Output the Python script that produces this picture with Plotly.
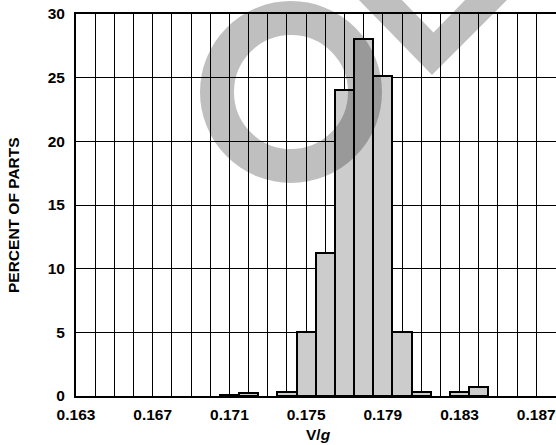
import plotly.graph_objects as go

# ---- data ----
bin_centers = [0.171, 0.172, 0.174, 0.175, 0.176, 0.177, 0.178, 0.179, 0.180, 0.181, 0.183, 0.184]
percent_of_parts = [0.1, 0.2, 0.3, 5.0, 11.2, 24.0, 28.0, 25.1, 5.0, 0.3, 0.3, 0.7]
bin_width = 0.001

x_grid_values = [round(0.163 + 0.001 * i, 3) for i in range(25)]
x_tick_labels = ["0.163", "0.167", "0.171", "0.175", "0.179", "0.183", "0.187"]
y_tick_values = [0, 5, 10, 15, 20, 25, 30]

x_ticktext = [f"{v:.3f}" if f"{v:.3f}" in x_tick_labels else "" for v in x_grid_values]

W, H = 556, 445
ML, MR, MT, MB = 76, 0, 14, 49
PW, PH = W - ML - MR, H - MT - MB

FONT = "Liberation Sans, Arial, sans-serif"
FS = 15.5

fig = go.Figure()
fig.add_trace(go.Bar(
    x=bin_centers, y=percent_of_parts, width=bin_width,
    marker=dict(color="#cccccc", line=dict(color="#000000", width=2)),
    showlegend=False, hoverinfo="x+y",
))

def px_to_paper(px, py):
    return (px - ML) / PW, (H - MB - py) / PH

# watermark (decorative overlay)
cx0, cy0 = px_to_paper(291 - 74, 92 - 74)
cx1, cy1 = px_to_paper(291 + 74, 92 + 74)
shapes = [dict(type="circle", xref="paper", yref="paper", x0=cx0, y0=cy1, x1=cx1, y1=cy0,
               line=dict(color="rgba(0,0,0,0.25)", width=34), fillcolor="rgba(0,0,0,0)",
               layer="above")]
vpts = [(357, -2), (432, 75), (509, -2), (467, -2), (433.5, 32.5), (400, -2)]
path = ""
for i, (a, b) in enumerate(vpts):
    xa, yb = px_to_paper(a, b)
    path += ("M" if i == 0 else "L") + f"{xa:.5f},{yb:.5f} "
path += "Z"
shapes.append(dict(type="path", xref="paper", yref="paper", path=path,
                   fillcolor="rgba(0,0,0,0.25)", line=dict(width=0), layer="above"))

fig.update_layout(
    width=W, height=H,
    margin=dict(l=ML, r=MR, t=MT, b=MB, pad=0),
    paper_bgcolor="white", plot_bgcolor="white",
    font=dict(family=FONT, size=FS, color="#000000"),
    bargap=0,
    shapes=shapes,
    xaxis=dict(
        range=[0.163, 0.18803],
        tickmode="array", tickvals=x_grid_values, ticktext=x_ticktext,
        showgrid=True, gridcolor="#000000", gridwidth=1,
        showline=True, linecolor="#000000", linewidth=2, mirror=True,
        ticks="", zeroline=False,
        tickfont=dict(family=FONT, size=FS, color="#000000", weight="bold"),
        ticklabelstandoff=3,
        fixedrange=True,
    ),
    yaxis=dict(
        range=[0, 30],
        tickmode="array", tickvals=y_tick_values,
        showgrid=True, gridcolor="#000000", gridwidth=1,
        showline=True, linecolor="#000000", linewidth=2,
        ticks="", zeroline=False,
        tickfont=dict(family=FONT, size=FS, color="#000000", weight="bold"),
        ticklabelstandoff=6,
        fixedrange=True,
    ),
    annotations=[
        dict(text="PERCENT OF PARTS", textangle=-90, xref="paper", yref="paper",
             x=(13 - ML) / PW, y=(H - MB - 215) / PH, xanchor="center", yanchor="middle",
             showarrow=False, font=dict(family=FONT, size=FS, color="#000000", weight="bold")),
        dict(text="V/<i>g</i>", xref="paper", yref="paper",
             x=(318 - ML) / PW, y=(H - MB - 434) / PH, xanchor="center", yanchor="middle",
             showarrow=False, font=dict(family=FONT, size=FS, color="#000000", weight="bold")),
    ],
)

fig.write_html("out.html", config={"displayModeBar": False},
               post_script="document.body.style.margin='0';")
